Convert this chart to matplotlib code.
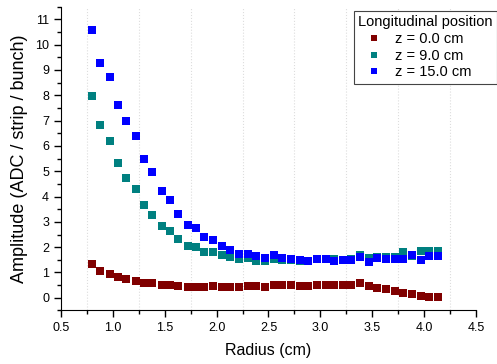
import matplotlib
matplotlib.use("Agg")
import matplotlib.pyplot as plt
from matplotlib.ticker import MultipleLocator

plt.rcParams['font.family'] = ['Liberation Sans', 'DejaVu Sans']

# radius positions (cm)
radius = [0.80, 0.88, 0.97, 1.05, 1.13, 1.22, 1.30, 1.38, 1.47, 1.55,
          1.63, 1.72, 1.80, 1.88, 1.97, 2.05, 2.13, 2.22, 2.30, 2.38,
          2.47, 2.55, 2.63, 2.72, 2.80, 2.88, 2.97, 3.05, 3.13, 3.22,
          3.30, 3.38, 3.47, 3.55, 3.63, 3.72, 3.80, 3.88, 3.97, 4.05, 4.13]

# amplitude at z = 0.0 cm
amp_z0 = [1.32, 1.07, 0.96, 0.82, 0.73, 0.67, 0.58, 0.57, 0.50, 0.50,
          0.46, 0.44, 0.44, 0.43, 0.46, 0.43, 0.42, 0.41, 0.46, 0.45,
          0.43, 0.49, 0.49, 0.49, 0.47, 0.47, 0.51, 0.50, 0.51, 0.51,
          0.51, 0.57, 0.45, 0.40, 0.33, 0.25, 0.20, 0.16, 0.07, 0.05, 0.03]

# amplitude at z = 9.0 cm
amp_z9 = [7.98, 6.82, 6.18, 5.32, 4.74, 4.28, 3.66, 3.28, 2.84, 2.64,
          2.32, 2.06, 1.99, 1.79, 1.81, 1.69, 1.60, 1.52, 1.56, 1.46,
          1.45, 1.54, 1.50, 1.50, 1.46, 1.46, 1.52, 1.52, 1.52, 1.50,
          1.52, 1.71, 1.56, 1.62, 1.62, 1.62, 1.82, 1.64, 1.84, 1.84, 1.84]

# amplitude at z = 15.0 cm
amp_z15 = [10.59, 9.26, 8.72, 7.61, 6.97, 6.38, 5.49, 4.97, 4.23, 3.85,
           3.31, 2.87, 2.74, 2.40, 2.29, 2.04, 1.88, 1.74, 1.75, 1.64,
           1.57, 1.68, 1.58, 1.52, 1.48, 1.44, 1.54, 1.54, 1.46, 1.49,
           1.48, 1.62, 1.41, 1.56, 1.54, 1.54, 1.54, 1.71, 1.49, 1.66, 1.65]

labels = ['z = 0.0 cm', 'z = 9.0 cm', 'z = 15.0 cm']
colors = ['#800000', '#008080', '#0000ff']

fig = plt.figure(figsize=(4.97, 3.64), dpi=100)
ax = fig.add_axes([0.1227, 0.147, 0.835, 0.835])

for y, lab, col in zip([amp_z0, amp_z9, amp_z15], labels, colors):
    ax.plot(radius, y, 's', color=col, ms=5.2, mew=0, label=lab)

ax.set_xlim(0.5, 4.5)
ax.set_ylim(-0.5, 11.5)
ax.xaxis.set_minor_locator(MultipleLocator(0.25))
ax.yaxis.set_major_locator(MultipleLocator(1))
ax.yaxis.set_minor_locator(MultipleLocator(0.5))
ax.set_xticks([0.5, 1.0, 1.5, 2.0, 2.5, 3.0, 3.5, 4.0, 4.5])
ax.set_xticklabels(['0.5', '1.0', '1.5', '2.0', '2.5', '3.0', '3.5', '4.0', '4.5'])

ax.spines['top'].set_visible(False)
ax.spines['right'].set_visible(False)
ax.tick_params(which='major', direction='out', length=5, width=1, labelsize=9)
ax.tick_params(which='minor', direction='out', length=3, width=1)
ax.grid(which='minor', axis='x', color='#dddddd', linestyle=':', linewidth=0.8)

ax.set_xlabel('Radius (cm)', fontsize=11.5, labelpad=6)
ax.set_ylabel('Amplitude (ADC / strip / bunch)', fontsize=13, labelpad=5)

leg = ax.legend(title='Longitudinal position', loc='upper right',
                bbox_to_anchor=(1.0, 1 - 11 / 364), bbox_transform=fig.transFigure,
                fontsize=10.5, title_fontsize=10.5, markerscale=0.75,
                fancybox=False, framealpha=1, edgecolor='#444444',
                borderaxespad=0, handletextpad=0.35, labelspacing=0.18,
                borderpad=0.3, handlelength=2.2)
leg._legend_box.align = 'left'
leg.get_frame().set_linewidth(0.8)

fig.savefig('out.png', dpi=100)
